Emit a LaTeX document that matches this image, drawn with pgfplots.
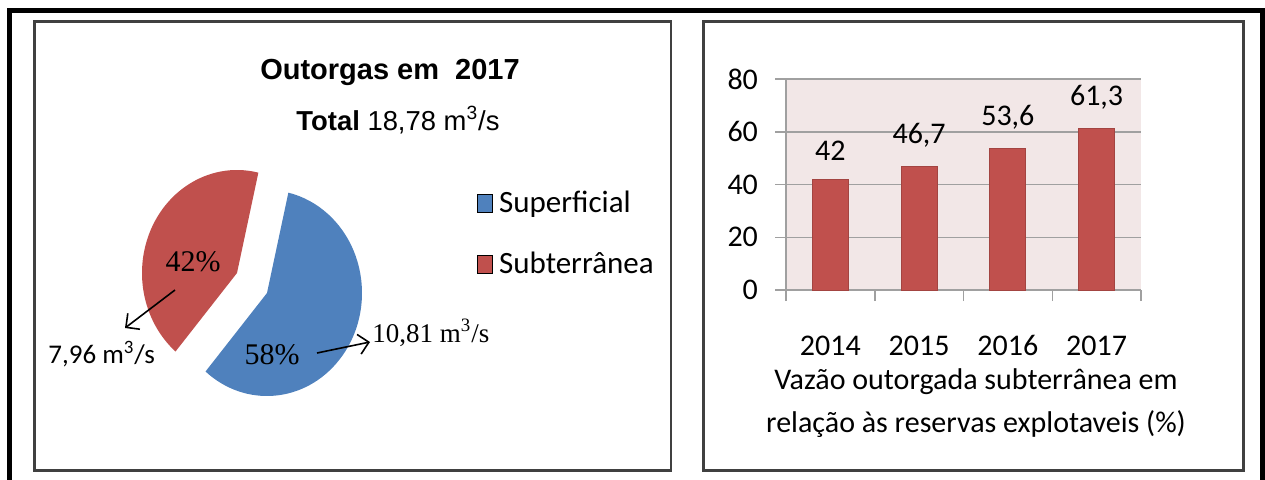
\documentclass[border=0pt]{standalone}
\usepackage{fontspec}
\setmainfont{Carlito}
\newfontfamily\tnr{Liberation Serif}
\newfontfamily\arial{Liberation Sans}
\usepackage{pgfplots}
\pgfplotsset{compat=1.18}
\usetikzlibrary{arrows.meta}
\definecolor{pieblue}{HTML}{4F81BD}
\definecolor{piered}{HTML}{C0504D}
\definecolor{bgpink}{HTML}{F2E7E7}
\definecolor{gridgray}{HTML}{A0A0A0}
\definecolor{framegray}{HTML}{404040}

\begin{document}
\begin{tikzpicture}[x=0.5pt,y=0.5pt]
\useasboundingbox (0,0) rectangle (1265,479);
\begin{scope}
\clip (0,0) rectangle (1265,479);
\draw[line width=2.5pt] (9.5,-20) -- (9.5,468.5) -- (1262,468.5) -- (1262,-20);
\end{scope}
\draw[framegray, line width=1.25pt] (34.5,8.5) rectangle (671,457.5);
\draw[framegray, line width=1.25pt] (703.5,8.5) rectangle (1243.5,457.5);

% ---------- bar chart ----------
\begin{axis}[at={(393pt,94.5pt)}, anchor=south west, scale only axis,
  width=177.5pt, height=105.5pt,
  xmin=-0.5, xmax=3.5, ymin=0, ymax=80, enlargelimits=false,
  axis x line=bottom, axis y line=left,
  axis line style={gridgray, line width=0.75pt, -},
  axis background/.style={fill=bgpink},
  ytick={0,20,40,60,80}, ymajorgrids,
  grid style={gridgray, line width=0.75pt},
  xtick={-0.5,0.5,1.5,2.5,3.5},
  xticklabels={2014,2015,2016,2017,},
  tick align=outside, major tick length=5.5pt,
  tick style={gridgray, line width=0.75pt},
  ticklabel style={font=\fontsize{15}{15}\selectfont},
  xticklabel style={xshift=22.1875pt, yshift=-13pt, text height=10.5pt, text depth=0pt},
  yticklabel style={xshift=-5pt},
  /pgf/number format/assume math mode=true,
  /pgf/number format/use comma,
  ybar, bar width=18pt,
  nodes near coords,
  nodes near coords style={font=\fontsize{15}{15}\selectfont, anchor=south, yshift=6pt},
]
\addplot[fill=piered, draw=piered!85!black, line width=0.5pt] coordinates {(0,42) (1,46.7) (2,53.6) (3,61.3)};
\end{axis}
\node[align=center, font=\fontsize{15}{21.5}\selectfont] at (976,75.5) {Vazão outorgada subterrânea em\\relação às reservas explotaveis (\%)};

% ---------- pie data ----------
\pgfmathsetmacro{\vsup}{10.81}
\pgfmathsetmacro{\vsub}{7.96}
\pgfmathsetmacro{\aR}{77}
\pgfmathsetmacro{\aM}{77+360*\vsub/(\vsub+\vsup)}
\pgfmathsetmacro{\aE}{77+360}
\pgfmathsetmacro{\rSx}{237+95*cos(\aR)}
\pgfmathsetmacro{\rSy}{206+103*sin(\aR)}
\pgfmathsetmacro{\bSx}{267+95*cos(\aM)}
\pgfmathsetmacro{\bSy}{186+103*sin(\aM)}

\begin{axis}[at={(20pt,10pt)}, anchor=south west, scale only axis,
  width=310pt, height=210pt, xmin=40, xmax=660, ymin=20, ymax=440,
  hide axis, clip=false,
  legend style={at={(axis cs:476.5,292)}, anchor=north west, draw=none, fill=none,
    font=\fontsize{15.5}{16}\selectfont, row sep=14pt, inner sep=0pt},
  legend cell align=left,
  legend image code/.code={\fill[#1] (0pt,-4.5pt) rectangle (7.5pt,4.5pt); \path (8.7pt,0pt);},
]
\addlegendimage{fill=pieblue}
\addlegendentry{Superficial}
\addlegendimage{fill=piered}
\addlegendentry{Subterrânea}
\fill[piered] (axis cs:237,206) -- (axis cs:\rSx,\rSy) arc[start angle=\aR, end angle=\aM, x radius=47.5pt, y radius=51.5pt] -- cycle;
\fill[pieblue] (axis cs:267,186) -- (axis cs:\bSx,\bSy) arc[start angle=\aM, end angle=\aE, x radius=47.5pt, y radius=51.5pt] -- cycle;
\node[font=\tnr\fontsize{15}{15}\selectfont] at (axis cs:193,217) {42\%};
\node[font=\tnr\fontsize{15}{15}\selectfont] at (axis cs:272,124) {58\%};
\draw[-{Straight Barb[length=5pt,width=10pt]}, line width=0.8pt] (axis cs:175,189) -- (axis cs:125,151);
\draw[-{Straight Barb[length=5pt,width=10pt]}, line width=0.8pt] (axis cs:317,126) -- (axis cs:370,137);
\node[anchor=west, inner sep=0pt, font=\fontsize{13.5}{14}\selectfont] at (axis cs:48,125) {7,96 m\textsuperscript{3}/s};
\node[anchor=west, inner sep=0pt, font=\tnr\fontsize{13.5}{14}\selectfont] at (axis cs:372,146) {10,81 m\textsuperscript{3}/s};
\node[font=\arial\bfseries\fontsize{14.5}{15}\selectfont] at (axis cs:390,407) {Outorgas em~~2017};
\node[font=\arial\fontsize{13.7}{15}\selectfont] at (axis cs:398,359) {\textbf{Total} 18,78 m\textsuperscript{3}/s};
\end{axis}
\end{tikzpicture}
\end{document}
